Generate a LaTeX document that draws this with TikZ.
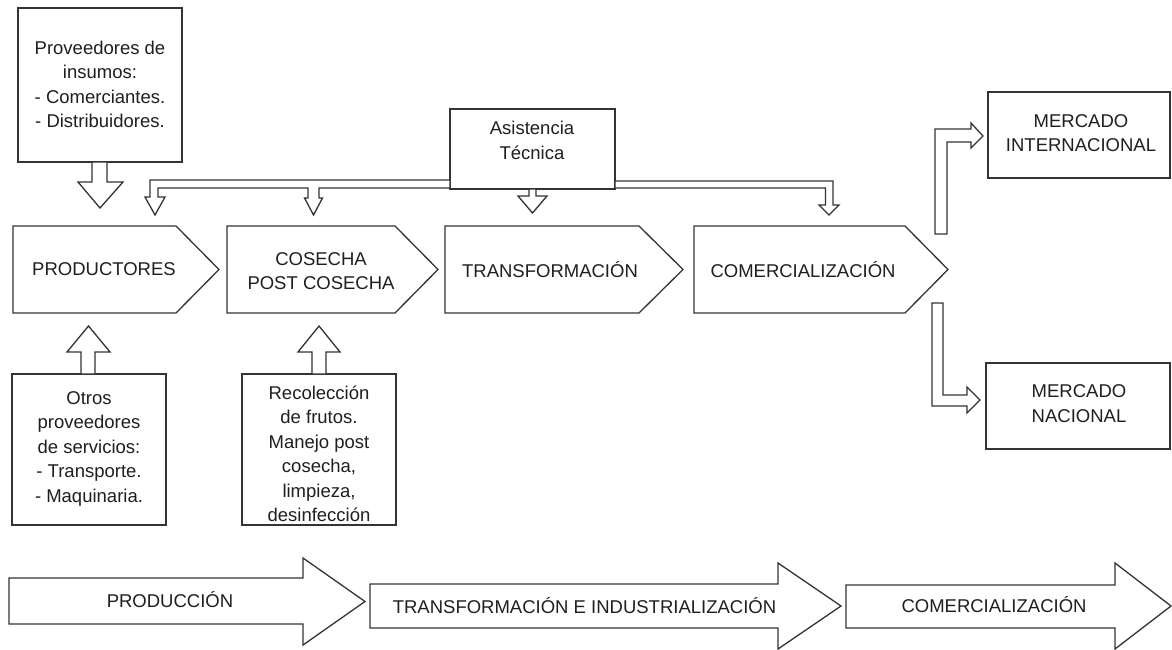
\documentclass[tikz,border=0pt]{standalone}
\usepackage{fontspec}
\setmainfont{Liberation Sans}
\newcommand\lbfont{\fontsize{18.5}{24.5}\selectfont}
\begin{document}
\begin{tikzpicture}[x=1pt,y=-1pt,
  ln/.style={draw=black!80, line width=1.3pt, line join=miter},
  shp/.style={ln, fill=white},
  box/.style={ln, fill=white, rectangle, inner sep=0pt},
  lbl/.style={align=center, text=black!88, font=\lbfont, inner sep=0pt}]
\useasboundingbox (0,0) rectangle (1172,650);

% value chain chevrons
\draw[shp] (13,226) -- (176,226) -- (219,269.5) -- (176,313) -- (13,313) -- cycle;
\draw[shp] (227,226) -- (395,226) -- (438,269.5) -- (395,313) -- (227,313) -- cycle;
\draw[shp] (445,226) -- (639,226) -- (683,269.5) -- (639,313) -- (445,313) -- cycle;
\draw[shp] (694,226) -- (905,226) -- (948,269.5) -- (905,313) -- (694,313) -- cycle;
\node[lbl] (prod) at (104,269) {PRODUCTORES};
\node[lbl] (cos) at (321,271) {COSECHA\\POST COSECHA};
\node[lbl] (trans) at (550,270) {TRANSFORMACIÓN};
\node[lbl] (com) at (803,270) {COMERCIALIZACIÓN};

% boxes
\node[box, minimum width=164, minimum height=154] (prov) at (100,85) {};
\node[lbl] (provt) at (100,84.5) {Proveedores de\\insumos:\\- Comerciantes.\\- Distribuidores.};
\node[box, minimum width=165, minimum height=80] (asis) at (532.5,149) {};
\node[lbl] (asist) at (532,140.5) {Asistencia\\Técnica};
\node[box, minimum width=154, minimum height=151] (otros) at (89,449.5) {};
\node[lbl] (otrost) at (89,448.5) {Otros\\proveedores\\de servicios:\\- Transporte.\\- Maquinaria.};
\node[box, minimum width=154, minimum height=151] (recol) at (319,449.5) {};
\node[lbl] (recolt) at (319,454) {Recolección\\de frutos.\\Manejo post\\cosecha,\\limpieza,\\desinfección};
\node[box, minimum width=182, minimum height=86] (mint) at (1079,135) {};
\node[lbl] (mintt) at (1081,133) {MERCADO\\INTERNACIONAL};
\node[box, minimum width=184, minimum height=86] (mnac) at (1078,406) {};
\node[lbl] (mnact) at (1079,403.5) {MERCADO\\NACIONAL};

% supplier arrows
\draw[shp] (92,162) -- (92,182) -- (78,182) -- (100,208) -- (123,182) -- (107,182) -- (107,162) -- cycle;
\draw[shp] (81,374) -- (81,352) -- (67,352) -- (88.5,326) -- (110,352) -- (95,352) -- (95,374) -- cycle;
\draw[shp] (312,374) -- (312,352) -- (298,352) -- (319,326) -- (340,352) -- (326,352) -- (326,374) -- cycle;

% technical assistance distribution
\draw[shp] (450,180) -- (150,180) -- (150,197) -- (145,197) -- (155,215) -- (165,197) -- (158,197)
  -- (158,188) -- (308,188) -- (308,198) -- (304.5,198) -- (313.5,215) -- (322.5,198) -- (319,198)
  -- (319,188) -- (450,188) -- cycle;
\draw[shp] (529,189) -- (529,196) -- (518,196) -- (532.5,213) -- (547,196) -- (536,196) -- (536,189) -- cycle;
\draw[shp] (615,181) -- (833,181) -- (833,205) -- (839,205) -- (829,215) -- (819,205) -- (825.5,205)
  -- (825.5,188) -- (615,188) -- cycle;

% market arrows
\draw[shp] (935,234) -- (935,129) -- (971,129) -- (971,123) -- (983,136) -- (971,148) -- (971,142)
  -- (947,142) -- (947,234) -- cycle;
\draw[shp] (932,303) -- (932,406) -- (967,406) -- (967,413) -- (980,400) -- (967,387) -- (967,395)
  -- (943,395) -- (943,303) -- cycle;

% stage arrows
\draw[shp] (9,578) -- (303,578) -- (303,558) -- (365,601.5) -- (303,645) -- (303,624) -- (9,624) -- cycle;
\draw[shp] (370,584) -- (778,584) -- (778,563) -- (841,606) -- (778,649) -- (778,628) -- (370,628) -- cycle;
\draw[shp] (846,585) -- (1115,585) -- (1115,563) -- (1171,606) -- (1115,649) -- (1115,628) -- (846,628) -- cycle;
\node[lbl] (s1) at (170,600) {PRODUCCIÓN};
\node[lbl] (s2) at (584.5,606) {TRANSFORMACIÓN E INDUSTRIALIZACIÓN};
\node[lbl] (s3) at (994,605) {COMERCIALIZACIÓN};
\end{tikzpicture}
\end{document}
